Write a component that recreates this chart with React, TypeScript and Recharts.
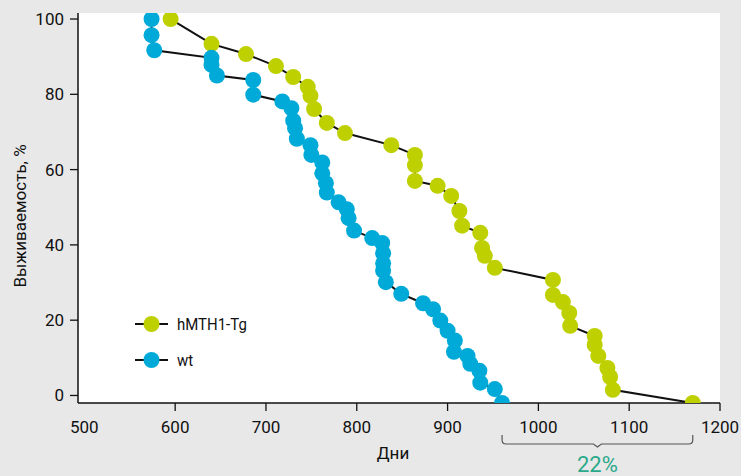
import { LineChart, Line, XAxis, YAxis, CartesianGrid, Legend, ReferenceArea, Label } from "recharts";

// days until death
const tgDays = [595, 640, 678, 711, 730, 746, 749, 753, 767, 787, 838, 864, 864, 864, 889, 904, 913, 916, 936, 938, 941, 952, 1016, 1016, 1027, 1034, 1035, 1062, 1062, 1066, 1076, 1079, 1082, 1170];
const tgSurv = [100, 93.4, 90.7, 87.5, 84.6, 82, 79.6, 76.1, 72.4, 69.7, 66.5, 63.9, 61.2, 57, 55.7, 53, 49, 45.1, 43.2, 39.2, 37.1, 33.9, 30.7, 26.7, 24.8, 21.9, 18.5, 15.8, 13.4, 10.5, 7.3, 4.9, 1.5, -2];

const wtDays = [574, 574, 577, 640, 640, 646, 686, 686, 718, 728, 730, 732, 734, 749, 750, 762, 762, 766, 767, 780, 789, 791, 797, 817, 828, 829, 829, 829, 832, 849, 873, 884, 892, 900, 908, 907, 922, 925, 935, 936, 952, 960];
const wtSurv = [100, 95.7, 91.7, 89.7, 87.8, 85, 83.8, 79.9, 78.1, 76.3, 73, 71, 68.2, 66.5, 63.9, 61.9, 59, 56.4, 53.9, 51.3, 49.5, 47.1, 43.8, 41.8, 40.5, 37.8, 35.1, 33.2, 30.1, 27, 24.5, 22.9, 19.9, 17.2, 14.6, 11.6, 10.5, 8.4, 6.6, 3.4, 1.7, -2];

const xTicks = [500, 600, 700, 800, 900, 1000, 1100, 1200];
const yTicks = [0, 20, 40, 60, 80, 100];

const GREEN = "#bed000";
const BLUE = "#00aad8";
const TEAL = "#2aa98b";
const INK = "#111";
const FONT = "Roboto, 'Noto Sans', sans-serif";

const seriesColors: Record<string, string> = { "hMTH1-Tg": GREEN, wt: BLUE };

const tgData = tgDays.map((d, i) => ({ day: d, surv: tgSurv[i] }));
const wtData = wtDays.map((d, i) => ({ day: d, surv: wtSurv[i] }));

const lifeGain = Math.round(((tgDays[tgDays.length - 1] - wtDays[wtDays.length - 1]) / wtDays[wtDays.length - 1]) * 100);

const XTick = ({ x, y, payload }: any) => (
  <g>
    {payload.value !== xTicks[0] && <line x1={x} x2={x} y1={y} y2={y + 8} stroke={INK} strokeWidth={1.3} />}
    <text x={x} y={y + 30} textAnchor="middle" fontSize={17} fontFamily={FONT} fill={INK}>
      {payload.value}
    </text>
  </g>
);

const YTick = ({ x, y, payload }: any) => (
  <g>
    <line x1={x - 8} x2={x} y1={y} y2={y} stroke={INK} strokeWidth={1.3} />
    <text x={x - 14} y={y + 6} textAnchor="end" fontSize={17} fontFamily={FONT} fill={INK}>
      {payload.value}
    </text>
  </g>
);

const Bracket = ({ x, y, width, height }: any) => {
  const b = y + height;
  const cx = x + width / 2;
  const d = `M${x},${b + 32} v5 q0,4 4,4 H${cx - 4} l4,3 l4,-3 H${x + width - 4} q4,0 4,-4 v-5`;
  return (
    <g>
      <path d={d} fill="none" stroke="#555" strokeWidth={1.2} />
      <text x={cx} y={b + 69} textAnchor="middle" fontSize={22} fontFamily={FONT} fill={TEAL}>
        {lifeGain}%
      </text>
    </g>
  );
};

const renderLegend = ({ payload }: any) => (
  <svg width={140} height={60}>
    {(payload || []).map((entry: any, i: number) => {
      const cy = 12 + i * 36;
      return (
        <g key={entry.value}>
          <line x1={8} x2={41} y1={cy} y2={cy} stroke={INK} strokeWidth={2} />
          <circle cx={24.5} cy={cy} r={8} fill={seriesColors[entry.value]} />
          <text x={50} y={cy + 6} fontSize={17} fontFamily={FONT} fill={INK} transform={`translate(${50 * 0.12},0) scale(0.88,1)`}>
            {entry.value}
          </text>
        </g>
      );
    })}
  </svg>
);

export default function App() {
  return (
    <div style={{ position: "absolute", left: 0, top: 0, width: 741, height: 476, background: "#e8e8e8" }}>
      <LineChart width={741} height={476} margin={{ top: 13, right: 21, bottom: 43, left: 18 }}>
        <CartesianGrid horizontal={false} vertical={false} fill="#ffffff" fillOpacity={1} />
        <XAxis
          type="number"
          dataKey="day"
          domain={[493, 1200]}
          allowDataOverflow
          ticks={xTicks}
          height={30}
          tickSize={0}
          tickMargin={0}
          tickLine={false}
          tick={<XTick />}
          axisLine={{ stroke: INK, strokeWidth: 1.5 }}
        >
          <Label
            content={({ viewBox }: any) => (
              <text x={393} y={viewBox.y + 56} textAnchor="middle" fontSize={17} fontFamily={FONT} fill={INK}>
                Дни
              </text>
            )}
          />
        </XAxis>
        <YAxis
          type="number"
          dataKey="surv"
          domain={[-2, 101.6]}
          allowDataOverflow
          ticks={yTicks}
          width={60}
          tickSize={0}
          tickMargin={0}
          tickLine={false}
          tick={<YTick />}
          axisLine={{ stroke: INK, strokeWidth: 1.5 }}
        >
          <Label
            content={({ viewBox }: any) => {
              const cx = 20;
              const cy = viewBox.y + viewBox.height / 2 + 8;
              return (
                <text x={cx} y={cy} transform={`rotate(-90 ${cx} ${cy})`} textAnchor="middle" dominantBaseline="central" fontSize={17} fontFamily={FONT} fill={INK}>
                  Выживаемость, %
                </text>
              );
            }}
          />
        </YAxis>
        <ReferenceArea x1={wtDays[wtDays.length - 1]} x2={tgDays[tgDays.length - 1]} shape={<Bracket />} />
        <Legend
          layout="horizontal"
          verticalAlign="middle"
          align="center"
          content={renderLegend}
          wrapperStyle={{ left: 127, top: 312, width: 140, height: 60 }}
        />
        <Line
          name="hMTH1-Tg"
          data={tgData}
          dataKey="surv"
          type="linear"
          stroke="#111"
          strokeWidth={2}
          dot={{ r: 8, fill: GREEN, stroke: "none", strokeWidth: 0 }}
          activeDot={false}
          isAnimationActive={false}
        />
        <Line
          name="wt"
          data={wtData}
          dataKey="surv"
          type="linear"
          stroke="#111"
          strokeWidth={2}
          dot={{ r: 8, fill: BLUE, stroke: "none", strokeWidth: 0 }}
          activeDot={false}
          isAnimationActive={false}
        />
      </LineChart>
    </div>
  );
}
